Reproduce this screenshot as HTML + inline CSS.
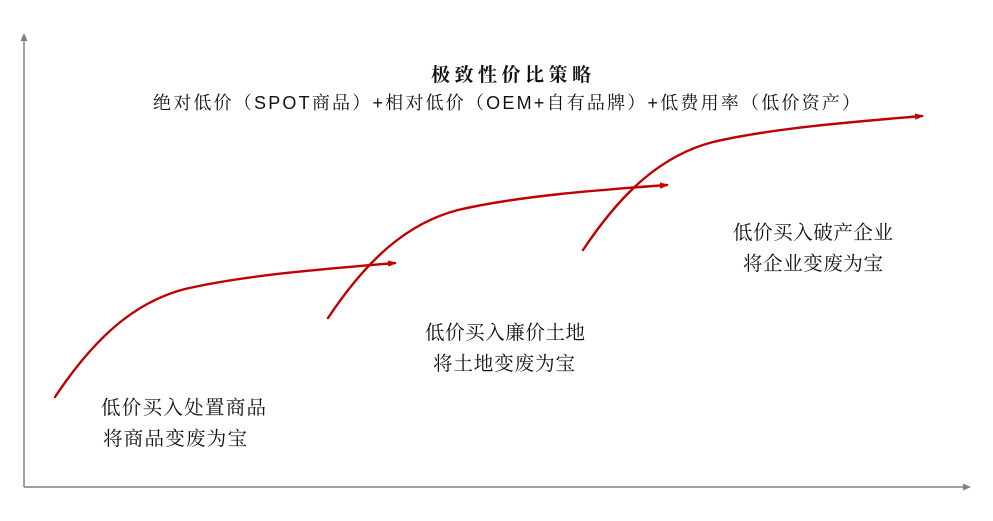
<!DOCTYPE html>
<html>
<head>
<meta charset="utf-8">
<style>
  html, body { margin: 0; padding: 0; background: #ffffff; }
  svg { display: block; }
  .lbl { font-family: "Noto Serif CJK SC", "Liberation Serif", serif; font-size: 19.5px; fill: #111; }
</style>
</head>
<body>
<svg width="993" height="521" viewBox="0 0 993 521" xmlns="http://www.w3.org/2000/svg">
  <rect width="993" height="521" fill="#ffffff"/>
  <defs>
    <marker id="ah" markerWidth="10" markerHeight="8" refX="7" refY="4" orient="auto" markerUnits="userSpaceOnUse">
      <path d="M0,0.8 L9,4 L0,7.2 Z" fill="#c00000"/>
    </marker>
  </defs>

  <!-- axes -->
  <line x1="24" y1="40" x2="24" y2="487" stroke="#808080" stroke-width="1.5"/>
  <path d="M24,33 L20.5,41 L27.5,41 Z" fill="#808080"/>
  <line x1="24" y1="487" x2="964" y2="487" stroke="#808080" stroke-width="1.5"/>
  <path d="M971,487 L963,483.5 L963,490.5 Z" fill="#808080"/>

  <!-- title -->
  <text x="431" y="81" textLength="160" lengthAdjust="spacing" font-family="'Noto Serif CJK SC', 'Liberation Serif', serif" font-weight="bold" font-size="19" fill="#111">极致性价比策略</text>
  <text x="153" y="109" textLength="707" lengthAdjust="spacing" font-family="'Liberation Sans', 'Noto Serif CJK SC', sans-serif" font-size="18" fill="#111">绝对低价（SPOT商品）+相对低价（OEM+自有品牌）+低费用率（低价资产）</text>

  <!-- curves -->
  <g fill="none" stroke="#c00000" stroke-width="2.4" stroke-linecap="round" marker-end="url(#ah)">
    <path transform="translate(55,397)" d="M0,0 C40,-60 80,-95 130,-108 C190,-122 270,-128 340,-134"/>
    <path transform="translate(328,318)" d="M0,0 C40,-60 80,-95 130,-108 C190,-122 270,-128 339,-133"/>
    <path transform="translate(583,250)" d="M0,0 C40,-60 80,-95 130,-108 C190,-122 270,-128 339,-134"/>
  </g>

  <!-- labels -->
  <text class="lbl" x="101" y="414" textLength="165" lengthAdjust="spacing">低价买入处置商品</text>
  <text class="lbl" x="103" y="445" textLength="144" lengthAdjust="spacing">将商品变废为宝</text>

  <text class="lbl" x="425" y="339" textLength="160" lengthAdjust="spacing">低价买入廉价土地</text>
  <text class="lbl" x="433" y="370" textLength="142" lengthAdjust="spacing">将土地变废为宝</text>

  <text class="lbl" x="733" y="239" textLength="160" lengthAdjust="spacing">低价买入破产企业</text>
  <text class="lbl" x="743" y="270" textLength="140" lengthAdjust="spacing">将企业变废为宝</text>
</svg>
</body>
</html>
